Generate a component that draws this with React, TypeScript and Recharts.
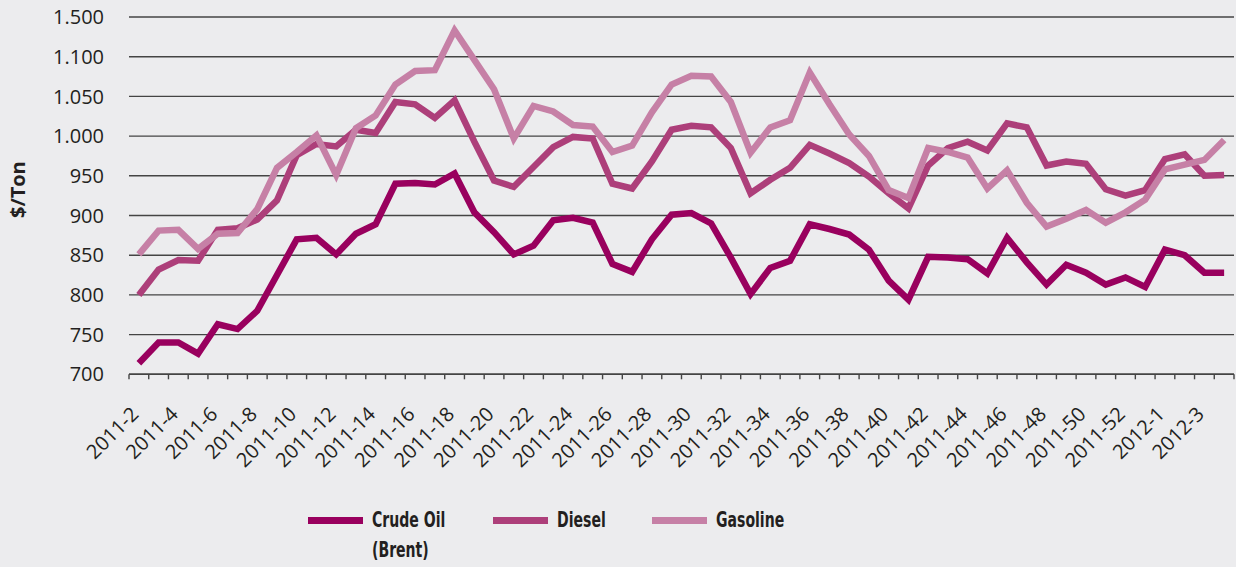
import { LineChart, Line, XAxis, YAxis, CartesianGrid } from "recharts";

const weeks = [
  "2011-2", "2011-3", "2011-4", "2011-5", "2011-6", "2011-7", "2011-8", "2011-9",
  "2011-10", "2011-11", "2011-12", "2011-13", "2011-14", "2011-15", "2011-16", "2011-17",
  "2011-18", "2011-19", "2011-20", "2011-21", "2011-22", "2011-23", "2011-24", "2011-25",
  "2011-26", "2011-27", "2011-28", "2011-29", "2011-30", "2011-31", "2011-32", "2011-33",
  "2011-34", "2011-35", "2011-36", "2011-37", "2011-38", "2011-39", "2011-40", "2011-41",
  "2011-42", "2011-43", "2011-44", "2011-45", "2011-46", "2011-47", "2011-48", "2011-49",
  "2011-50", "2011-51", "2011-52", "2011-53", "2012-1", "2012-2", "2012-3", "2012-4",
];

const crudeOil = [
  714, 740, 740, 726, 763, 757, 780, 825, 870, 872, 851, 877, 889, 940, 941, 939,
  953, 904, 879, 851, 862, 894, 897, 891, 839, 829, 870, 901, 903, 890, 847, 801,
  834, 843, 889, 883, 876, 857, 818, 794, 848, 847, 845, 827, 872, 841, 813, 838,
  828, 813, 822, 810, 857, 850, 828, 828,
];

const diesel = [
  800, 832, 844, 843, 882, 884, 895, 919, 976, 990, 987, 1008, 1004, 1043, 1040, 1023,
  1045, 993, 944, 936, 961, 986, 999, 997, 940, 934, 968, 1008, 1013, 1011, 985, 928,
  945, 960, 989, 978, 966, 949, 928, 909, 963, 985, 993, 982, 1016, 1011, 963, 968,
  965, 933, 925, 932, 971, 977, 950, 951,
];

const gasoline = [
  851, 881, 882, 858, 877, 878, 908, 960, 980, 1001, 951, 1010, 1026, 1065, 1082, 1083,
  1133, 1096, 1059, 997, 1038, 1031, 1014, 1012, 980, 988, 1030, 1065, 1076, 1075, 1043, 979,
  1011, 1020, 1080, 1040, 1002, 975, 932, 922, 985, 980, 973, 934, 957, 916, 886, 896,
  907, 891, 904, 920, 958, 964, 970, 995,
];

const yTicks = [700, 750, 800, 850, 900, 950, 1000, 1050, 1100, 1150];
const yTickLabels = ["700", "750", "800", "850", "900", "950", "1.000", "1.050", "1.100", "1.500"];

const series = [
  { key: "crude", name: ["Crude Oil", "(Brent)"], color: "#99005e" },
  { key: "diesel", name: ["Diesel"], color: "#ad3f7a" },
  { key: "gasoline", name: ["Gasoline"], color: "#c680a6" },
];

const data = weeks.map((week, i) => ({
  week,
  crude: crudeOil[i],
  diesel: diesel[i],
  gasoline: gasoline[i],
}));

const W = 1236;
const H = 567;
const LEFT = 129;
const RIGHT = 2;
const STEP = (W - LEFT - RIGHT) / weeks.length;
const TEXT = "#231f20";
const GRID = "#444444";

function WeekTick(props: any) {
  const { x, y, payload, index } = props;
  const i = payload?.index ?? index;
  const last = i === weeks.length - 1;
  const ax = x + 1;
  const ay = y + 41;
  return (
    <g>
      <line x1={x - STEP / 2} x2={x - STEP / 2} y1={y} y2={y + 5} stroke={GRID} strokeWidth={1.4} />
      {last && (
        <line x1={x + STEP / 2} x2={x + STEP / 2} y1={y} y2={y + 5} stroke={GRID} strokeWidth={1.4} />
      )}
      {i % 2 === 0 && (
        <text
          x={ax}
          y={ay}
          textAnchor="end"
          transform={`rotate(-45, ${ax}, ${ay})`}
          fontSize={20}
          fontFamily="'Open Sans', sans-serif"
          fill={TEXT}
        >
          {payload.value}
        </text>
      )}
    </g>
  );
}

function ChartLegend() {
  const spots = [308, 493, 652];
  return (
    <>
      {series.map((s, k) => (
        <div key={s.key}>
          <div
            style={{
              position: "absolute",
              left: spots[k],
              top: 517,
              width: 55,
              height: 7,
              background: s.color,
            }}
          />
          <div
            style={{
              position: "absolute",
              left: spots[k] + 64,
              top: 505,
              fontFamily: "'DejaVu Sans Condensed', sans-serif",
              fontWeight: "bold",
              fontSize: 22,
              lineHeight: "30px",
              color: TEXT,
              transform: "scaleX(0.71)",
              transformOrigin: "left top",
              whiteSpace: "nowrap",
            }}
          >
            {s.name.map((t) => (
              <div key={t}>{t}</div>
            ))}
          </div>
        </div>
      ))}
    </>
  );
}

export default function App() {
  return (
    <div style={{ position: "absolute", left: 0, top: 0, width: W, height: H, background: "#ececee" }}>
      <LineChart width={W} height={H} data={data} margin={{ top: 17, right: RIGHT, left: 0, bottom: 0 }}>
        <CartesianGrid vertical={false} stroke={GRID} strokeWidth={1.4} />
        <XAxis
          dataKey="week"
          interval={0}
          height={192.7}
          padding={{ left: STEP / 2, right: STEP / 2 }}
          tickSize={0}
          tickMargin={0}
          tickLine={false}
          axisLine={{ stroke: GRID, strokeWidth: 1.4 }}
          tick={<WeekTick />}
        />
        <YAxis
          width={LEFT}
          domain={[700, 1150]}
          ticks={yTicks}
          interval={0}
          axisLine={false}
          tickLine={false}
          tickSize={0}
          tickMargin={25}
          tickFormatter={(v: number) => yTickLabels[yTicks.indexOf(v)]}
          tick={{ fontSize: 20, fontFamily: "'Open Sans', sans-serif", fill: TEXT }}
          label={{
            value: "$/Ton",
            angle: -90,
            position: "insideLeft",
            offset: 18,
            dy: -6,
            style: { textAnchor: "middle", fontSize: 20, fontWeight: "bold", fontFamily: "'Open Sans', sans-serif", fill: TEXT },
          }}
        />
        {series.map((s) => (
          <Line
            key={s.key}
            type="linear"
            dataKey={s.key}
            stroke={s.color}
            strokeWidth={6.5}
            strokeLinejoin="miter"
            dot={false}
            activeDot={false}
            isAnimationActive={false}
          />
        ))}
      </LineChart>
      <ChartLegend />
    </div>
  );
}
